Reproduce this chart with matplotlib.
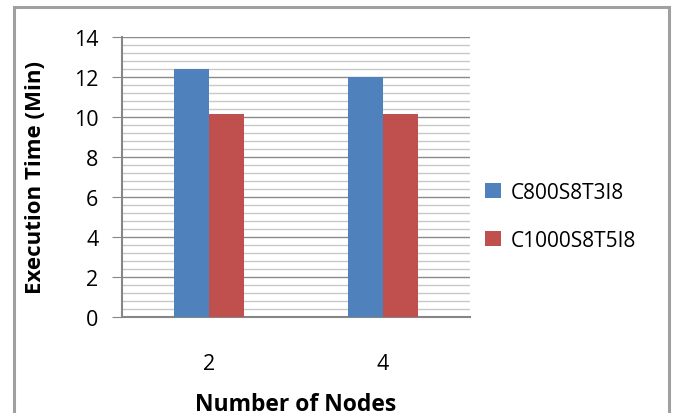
import matplotlib
matplotlib.use("Agg")
import matplotlib.pyplot as plt
from matplotlib.patches import Rectangle
from matplotlib.ticker import MultipleLocator
import numpy as np

plt.rcParams['font.family'] = ['Open Sans', 'DejaVu Sans']

categories = ["2", "4"]
series_names = ["C800S8T3I8", "C1000S8T5I8"]
series_values = [
    [12.4, 12.0],
    [10.15, 10.15],
]
colors = ["#4f81bd", "#c0504d"]
y_ticks = [0, 2, 4, 6, 8, 10, 12, 14]

W, H = 675, 414
fig = plt.figure(figsize=(W / 100, H / 100), dpi=100)

# outer chart frame
fig.patches.append(Rectangle((14 / W, -0.05), (669 - 14) / W, (H - 8) / H + 0.05,
                             transform=fig.transFigure, fill=False,
                             edgecolor="#a0a0a0", linewidth=2.2))

ax = fig.add_axes([122 / W, (H - 318) / H, 348 / W, 280 / H])

x = np.arange(len(categories))
bw = 0.2
for i, (name, vals) in enumerate(zip(series_names, series_values)):
    ax.bar(x + (i - 0.5) * bw, vals, width=bw, color=colors[i], label=name, zorder=3)

ax.set_xlim(-0.5, len(categories) - 0.5)
ax.set_ylim(0, 14)
ax.set_yticks(y_ticks)
ax.yaxis.set_minor_locator(MultipleLocator(0.4))
ax.grid(axis="y", which="minor", color="#c8c8c8", linewidth=1.0, zorder=0)
ax.grid(axis="y", which="major", color="#8a8a8a", linewidth=1.0, zorder=1)
ax.tick_params(axis="y", which="minor", length=0)
ax.tick_params(axis="y", which="major", length=7, color="#868686", labelsize=15.5, pad=10)
ax.set_xticks(x)
ax.set_xticklabels(categories)
ax.tick_params(axis="x", length=0, labelsize=15.5, pad=26)

for s in ["top", "right"]:
    ax.spines[s].set_visible(False)
for s in ["left", "bottom"]:
    ax.spines[s].set_color("#868686")
    ax.spines[s].set_linewidth(1.5)

# x-axis title sits at the very bottom of the chart frame
fig.text(296 / W, 3 / H, "Number of Nodes", fontsize=16.5, fontweight="bold",
         ha="center", va="baseline")
ax.set_ylabel("Execution Time (Min)", fontsize=16, fontweight="bold", labelpad=20)

ax.legend(loc="center left", bbox_to_anchor=(0.99, 0.36), frameon=False,
          fontsize=15, handlelength=0.75, handleheight=0.75, handletextpad=0.45,
          labelspacing=1.3)

fig.savefig("out.png", dpi=100)
